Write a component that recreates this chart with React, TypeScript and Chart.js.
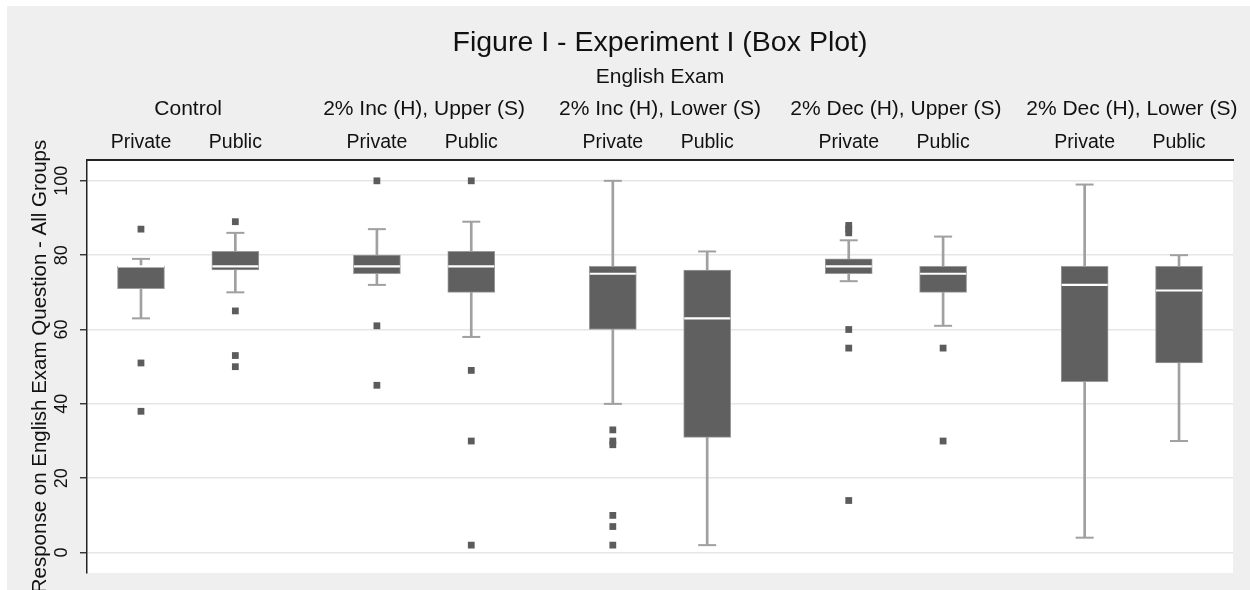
import React, { useEffect, useRef } from "react";
import { Chart, registerables } from "chart.js";

Chart.register(...registerables);

const FONT = "'Liberation Sans', Arial, Helvetica, sans-serif";
const TEXT = "#111111";

// ---- texts ----
const titleText = "Figure I - Experiment I (Box Plot)";
const subtitleText = "English Exam";
const yAxisTitle = "Response on English Exam Question - All Groups";

const groupLabels = [
  "Control",
  "2% Inc (H), Upper (S)",
  "2% Inc (H), Lower (S)",
  "2% Dec (H), Upper (S)",
  "2% Dec (H), Lower (S)",
];
const groupPositions = [0.5, 3, 5.5, 8, 10.5];

const boxLabels = [
  "Private", "Public",
  "Private", "Public",
  "Private", "Public",
  "Private", "Public",
  "Private", "Public",
];
const boxPositions = [0, 1, 2.5, 3.5, 5, 6, 7.5, 8.5, 10, 11];

// ---- box plot statistics ----
const lowerWhisker = [63, 70, 72, 58, 40, 2, 73, 61, 4, 30];
const q1 = [71, 76, 75, 70, 60, 31, 75, 70, 46, 51];
const median = [77, 77, 77, 77, 75, 63, 77, 75, 72, 70.5];
const q3 = [77, 81, 80, 81, 77, 76, 79, 77, 77, 77];
const upperWhisker = [79, 86, 87, 89, 100, 81, 84, 85, 99, 80];
const outliers: number[][] = [
  [87, 51, 38],
  [89, 65, 53, 50],
  [100, 61, 45],
  [100, 49, 30, 2],
  [33, 30, 29, 10, 7, 2],
  [],
  [88, 87, 86, 60, 55, 14],
  [55, 30],
  [],
  [],
];

const yTicks = [0, 20, 40, 60, 80, 100];
const xMin = -0.572;
const xMax = 11.572;
const yMin = -5.5;
const yMax = 105.6;

const CANVAS_W = 1243;
const CANVAS_H = 584;
const AREA = { left: 80, top: 154, right: CANVAS_W - 17, bottom: CANVAS_H - 17 };

const BOX_FILL = "#606060";
const BOX_EDGE = "#9a9a9a";
const WHISKER = "#a0a0a0";

const bgPlugin = {
  id: "stataBackground",
  beforeDraw(chart: any) {
    const { ctx, chartArea, width, height } = chart;
    ctx.save();
    ctx.fillStyle = "#efefef";
    ctx.fillRect(0, 0, width, height);
    ctx.fillStyle = "#ffffff";
    ctx.fillRect(
      chartArea.left,
      chartArea.top,
      chartArea.right - chartArea.left,
      chartArea.bottom - chartArea.top
    );
    ctx.restore();
  },
};

function zeroPadding(scale: any) {
  scale.paddingLeft = 0;
  scale.paddingRight = 0;
  scale.paddingTop = 0;
  scale.paddingBottom = 0;
}

function topAxis(
  weight: number,
  height: number,
  positions: number[],
  labels: string[],
  size: number,
  padding: number,
  withBorder: boolean
) {
  return {
    type: "linear",
    position: "top",
    weight,
    min: xMin,
    max: xMax,
    offset: false,
    grid: { display: false, drawTicks: false, offset: false },
    border: withBorder
      ? { display: true, color: "#222222", width: 2 }
      : { display: false },
    afterBuildTicks: (scale: any) => {
      scale.ticks = positions.map((v) => ({ value: v }));
    },
    afterFit: (scale: any) => {
      scale.height = height;
      zeroPadding(scale);
    },
    ticks: {
      autoSkip: false,
      maxRotation: 0,
      minRotation: 0,
      padding,
      color: TEXT,
      font: { family: FONT, size, lineHeight: 1 },
      callback: (_v: any, i: number) => labels[i],
    },
  };
}

export default function App() {
  const ref = useRef<HTMLCanvasElement>(null);

  useEffect(() => {
    const prevOverflow = document.documentElement.style.overflow;
    document.documentElement.style.overflow = "hidden";

    const whiskerData = boxPositions.map((x, i) => ({
      x,
      y: [lowerWhisker[i], upperWhisker[i]],
    }));
    const boxData = boxPositions.map((x, i) => ({ x, y: [q1[i], q3[i]] }));
    const capData = boxPositions.flatMap((x, i) => [
      { x, y: lowerWhisker[i] },
      { x, y: upperWhisker[i] },
    ]);
    const medianData = boxPositions.map((x, i) => ({ x, y: median[i] }));
    const outlierData = boxPositions.flatMap((x, i) =>
      outliers[i].map((v) => ({ x, y: v }))
    );

    const padding = { left: 0, top: 0, right: 17, bottom: 17 };

    const chart = new Chart(ref.current as HTMLCanvasElement, {
      type: "bar",
      data: {
        datasets: [
          {
            type: "bar",
            data: whiskerData as any,
            backgroundColor: WHISKER,
            borderWidth: 0,
            barThickness: 2,
            grouped: false,
            order: 5,
          } as any,
          {
            type: "scatter",
            data: capData,
            pointStyle: "line",
            pointRadius: 9,
            pointHoverRadius: 9,
            pointBorderWidth: 2,
            pointBorderColor: WHISKER,
            order: 4,
          } as any,
          {
            type: "bar",
            data: boxData as any,
            backgroundColor: BOX_FILL,
            borderColor: BOX_EDGE,
            borderWidth: 1,
            borderSkipped: false,
            barThickness: 47,
            grouped: false,
            order: 3,
          } as any,
          {
            type: "scatter",
            data: medianData,
            pointStyle: "line",
            pointRadius: 23,
            pointHoverRadius: 23,
            pointBorderWidth: 2.2,
            pointBorderColor: "#ffffff",
            order: 2,
          } as any,
          {
            type: "scatter",
            data: outlierData,
            pointStyle: "rect",
            pointRadius: 4.8,
            pointHoverRadius: 4.8,
            pointBorderWidth: 0,
            pointBackgroundColor: "#5c5c5c",
            order: 1,
          } as any,
        ],
      },
      options: {
        responsive: false,
        maintainAspectRatio: false,
        devicePixelRatio: 1,
        animation: false,
        events: [],
        layout: { padding, autoPadding: false },
        plugins: {
          legend: { display: false },
          tooltip: { enabled: false },
          title: { display: false },
          subtitle: { display: false },
        },
        scales: {
          x: {
            type: "linear",
            display: false,
            min: xMin,
            max: xMax,
            offset: false,
            grid: { offset: false },
            afterFit: (scale: any) => {
              scale.height = 0;
              zeroPadding(scale);
            },
          },
          xSub: topAxis(0, 30, boxPositions, boxLabels, 19.5, 8, true),
          xGroup: topAxis(1, 30, groupPositions, groupLabels, 21, 10.5, false),
          xSubtitle: topAxis(2, 40, [5.5], [subtitleText], 21, 12.7, false),
          xTitle: topAxis(3, 54, [5.5], [titleText], 28.5, 3, false),
          y: {
            type: "linear",
            position: "left",
            min: yMin,
            max: yMax,
            afterBuildTicks: (scale: any) => {
              scale.ticks = yTicks.map((v) => ({ value: v }));
            },
            afterFit: (scale: any) => {
              scale.width = AREA.left;
              zeroPadding(scale);
            },
            grid: {
              color: "#e6e6e6",
              lineWidth: 1.5,
              drawTicks: true,
              tickLength: 7,
              tickColor: "#222222",
              tickWidth: 1.3,
            },
            border: { display: true, color: "#222222", width: 1.5 },
            ticks: {
              minRotation: 90,
              maxRotation: 90,
              crossAlign: "center",
              padding: 3,
              color: TEXT,
              font: { family: FONT, size: 18 },
              callback: (v: any) => String(v),
            },
            title: {
              display: true,
              text: yAxisTitle,
              color: TEXT,
              font: { family: FONT, size: 20.5 },
              padding: { top: 21.2, bottom: 0 },
            },
          },
        } as any,
      },
      plugins: [bgPlugin],
    } as any);

    // Keep the plot area where the reference has it.
    for (let pass = 0; pass < 3; pass++) {
      const a = chart.chartArea;
      const dr = AREA.right - a.right;
      const db = AREA.bottom - a.bottom;
      if (Math.abs(dr) < 0.5 && Math.abs(db) < 0.5) break;
      padding.right = Math.max(0, padding.right - dr);
      padding.bottom = Math.max(0, padding.bottom - db);
      chart.update();
    }

    return () => {
      chart.destroy();
      document.documentElement.style.overflow = prevOverflow;
    };
  }, []);

  return (
    <div style={{ position: "absolute", left: 7, top: 6, width: CANVAS_W, height: CANVAS_H }}>
      <canvas
        ref={ref}
        width={CANVAS_W}
        height={CANVAS_H}
        style={{ display: "block", width: CANVAS_W, height: CANVAS_H }}
      />
    </div>
  );
}
